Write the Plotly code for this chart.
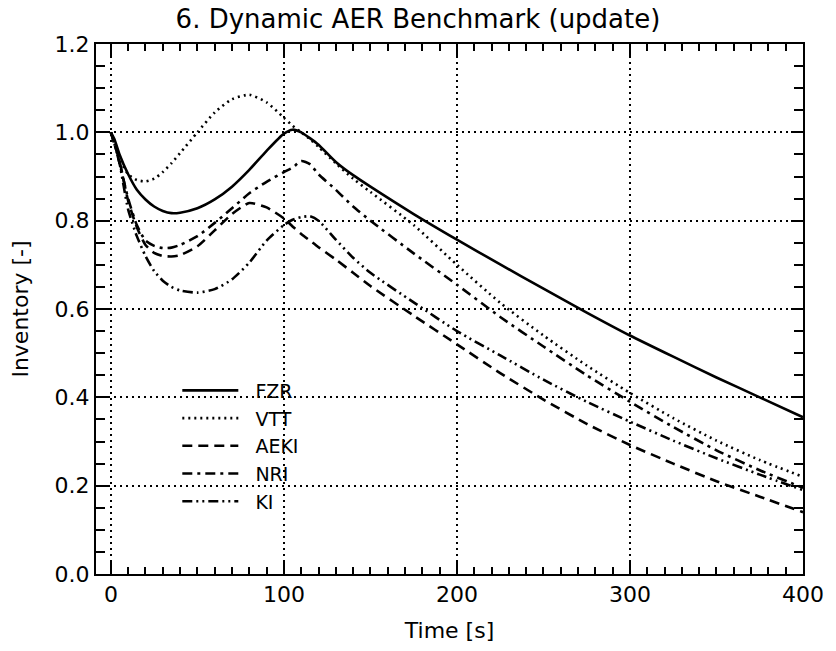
import plotly.graph_objects as go

# Time samples [s]
time_s = [0, 2, 5, 10, 15, 20, 25, 30, 35, 40, 50, 60, 70, 80, 90, 100, 105, 110,
          115, 120, 130, 140, 150, 175, 200, 225, 250, 275, 300, 325, 350, 375, 400]

# Normalised inventory per participant [-]
fzr = [1.0, 0.985, 0.95, 0.905, 0.87, 0.848, 0.832, 0.822, 0.817, 0.818, 0.828, 0.848,
       0.877, 0.915, 0.958, 0.997, 1.006, 1.0, 0.987, 0.972, 0.933, 0.903, 0.877, 0.815,
       0.757, 0.701, 0.646, 0.592, 0.540, 0.492, 0.445, 0.40, 0.355]
vtt = [1.0, 0.975, 0.94, 0.905, 0.892, 0.889, 0.895, 0.91, 0.93, 0.953, 1.0, 1.045,
       1.075, 1.085, 1.068, 1.033, 1.015, 1.0, 0.985, 0.967, 0.93, 0.895, 0.865, 0.79,
       0.70, 0.614, 0.54, 0.472, 0.41, 0.353, 0.302, 0.258, 0.22]
aeki = [1.0, 0.975, 0.935, 0.845, 0.785, 0.745, 0.727, 0.72, 0.719, 0.722, 0.742, 0.778,
        0.815, 0.84, 0.83, 0.805, 0.787, 0.77, 0.755, 0.74, 0.712, 0.682, 0.652, 0.585,
        0.52, 0.455, 0.395, 0.34, 0.292, 0.25, 0.21, 0.175, 0.14]
nri = [1.0, 0.975, 0.93, 0.85, 0.79, 0.755, 0.743, 0.738, 0.739, 0.745, 0.765, 0.795,
       0.828, 0.862, 0.888, 0.91, 0.92, 0.935, 0.928, 0.905, 0.87, 0.832, 0.80, 0.726,
       0.655, 0.582, 0.515, 0.45, 0.39, 0.333, 0.28, 0.235, 0.195]
ki = [1.0, 0.975, 0.93, 0.825, 0.765, 0.72, 0.686, 0.664, 0.65, 0.642, 0.637, 0.645,
      0.667, 0.705, 0.755, 0.79, 0.802, 0.808, 0.81, 0.80, 0.757, 0.716, 0.682, 0.615,
      0.55, 0.495, 0.44, 0.39, 0.345, 0.302, 0.262, 0.225, 0.19]

series_names = ["FZR", "VTT", "AEKI", "NRI", "KI"]
series_values = [fzr, vtt, aeki, nri, ki]
series_dash = ["solid", "2px,4px", "10px,6px", "10px,5px,3px,5px",
               "10px,4px,2px,4px,2px,4px"]

x_ticks = [0, 100, 200, 300, 400]
y_ticks = [0.0, 0.2, 0.4, 0.6, 0.8, 1.0, 1.2]

FONT = "DejaVu Sans"
GAP = "\u00a0\u00a0"  # spacing between legend line sample and label

fig = go.Figure()
for name, vals, dash in zip(series_names, series_values, series_dash):
    fig.add_trace(go.Scatter(
        x=time_s, y=vals, mode="lines", name=GAP + name,
        line=dict(color="black", width=2.6, dash=dash, shape="spline", smoothing=0.6),
    ))

axis_common = dict(
    showline=True, linecolor="black", linewidth=2, mirror="ticks",
    ticks="inside", tickcolor="black", tickwidth=1.5,
    showgrid=True, gridcolor="black", gridwidth=1.5, griddash="2px,4px",
    zeroline=False,
    tickfont=dict(family=FONT, size=22, color="black"),
)

fig.update_xaxes(
    range=[-8.6, 400], tickvals=x_ticks, ticklen=12,
    minor=dict(dtick=10, tick0=0, ticks="inside", ticklen=7, tickwidth=1.5,
               tickcolor="black", showgrid=False),
    title=dict(text="Time [s]", font=dict(family=FONT, size=22, color="black"), standoff=16),
    **axis_common,
)
fig.update_yaxes(
    range=[0, 1.2], tickvals=y_ticks, tickformat=".1f", ticklen=12,
    minor=dict(dtick=0.05, tick0=0, ticks="inside", ticklen=9, tickwidth=1.5,
               tickcolor="black", showgrid=False),
    title=dict(text="Inventory [-]", font=dict(family=FONT, size=22, color="black"), standoff=20),
    **axis_common,
)

fig.update_layout(
    width=836, height=651,
    margin=dict(l=96, r=27, t=44, b=76),
    paper_bgcolor="white", plot_bgcolor="white",
    title=dict(text="6. Dynamic AER Benchmark (update)", x=0.5, xanchor="center",
               y=1 - 19 / 651, yanchor="middle",
               font=dict(family=FONT, size=26, color="black")),
    legend=dict(x=0.115, y=0.382, xanchor="left", yanchor="top",
                bgcolor="rgba(0,0,0,0)", borderwidth=0, itemwidth=56,
                font=dict(family=FONT, size=19, color="black"),
                tracegroupgap=0),
    showlegend=True,
)

fig.write_html("out.html")
